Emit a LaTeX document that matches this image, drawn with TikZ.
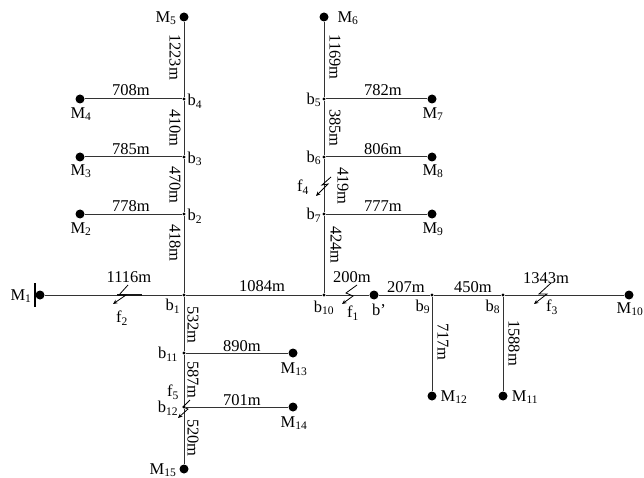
\documentclass[tikz,border=0pt]{standalone}
\usepackage{fontspec}
\setmainfont{Liberation Serif}
\usetikzlibrary{arrows.meta}
\tikzset{
  line/.style={draw=black!80,line width=1pt},
  term/.style={circle,fill=black,inner sep=0pt,minimum size=9pt},
  bus/.style={circle,fill=black,inner sep=0pt,minimum size=3.2pt},
  txt/.style={inner sep=0pt,font=\fontsize{16.5}{18}\selectfont},
  vlab/.style={txt,rotate=-90},
  fault/.style={draw=black,line width=.8pt,-{Stealth[length=4.5pt,width=4pt]}}
}
\newcommand{\lab}[3]{\node[txt] at (#1,#2) {#3};}
\newcommand{\vl}[3]{\node[vlab] at (#1+1,#2) {#3};}
\begin{document}
\begin{tikzpicture}[x=1pt,y=-1pt]
\useasboundingbox (0,0) rectangle (644,478);
% terminals
\node[term] (M1) at (40,295) {};
\node[term] (M2) at (80,214) {};
\node[term] (M3) at (80,157) {};
\node[term] (M4) at (80,99) {};
\node[term] (M5) at (184,17) {};
\node[term] (M6) at (324,17) {};
\node[term] (M7) at (432,99) {};
\node[term] (M8) at (432,157) {};
\node[term] (M9) at (432,214) {};
\node[term] (M10) at (629,295) {};
\node[term] (M11) at (503,396) {};
\node[term] (M12) at (432,396) {};
\node[term] (M13) at (293,353) {};
\node[term] (M14) at (293,407) {};
\node[term] (M15) at (184,469) {};
\node[term] (bp) at (374,295) {};
% buses
\node[bus] (b1) at (184,295) {};
\node[bus] (b2) at (184,214) {};
\node[bus] (b3) at (184,157) {};
\node[bus] (b4) at (184,99) {};
\node[bus] (b5) at (324,99) {};
\node[bus] (b6) at (324,157) {};
\node[bus] (b7) at (324,214) {};
\node[bus] (b8) at (503,295) {};
\node[bus] (b9) at (432,295) {};
\node[bus] (b10) at (324,295) {};
\node[bus] (b11) at (184,353) {};
\node[bus] (b12) at (184,407) {};
% lines
\draw[line] (M1) -- (b1) -- (b10) -- (bp) -- (b9) -- (b8) -- (M10);
\draw[line] (M5) -- (b4) -- (b3) -- (b2) -- (b1) -- (b11) -- (b12) -- (M15);
\draw[line] (M6) -- (b5) -- (b6) -- (b7) -- (b10);
\draw[line] (M4) -- (b4); \draw[line] (M3) -- (b3); \draw[line] (M2) -- (b2);
\draw[line] (b5) -- (M7); \draw[line] (b6) -- (M8); \draw[line] (b7) -- (M9);
\draw[line] (b11) -- (M13); \draw[line] (b12) -- (M14);
\draw[line] (b9) -- (M12); \draw[line] (b8) -- (M11);
% busbar at M1
\coordinate (barT) at (35,283); \coordinate (barB) at (35,307);
\draw[black,line width=2pt] (barT) -- (barB);
\coordinate (f2a) at (117,295); \coordinate (f2b) at (142,295);
\draw[black!90,line width=1.3pt] (f2a) -- (f2b);
% faults
\draw[fault] (128,285) -- (119,295) -- (126,295) -- (113,304);
\draw[fault] (357,285) -- (346,293) -- (353,296) -- (342,304);
\draw[fault] (551,283) -- (539,294) -- (547,294) -- (534,304);
\draw[fault] (331,177) -- (322,185) -- (328,184) -- (316,196);
\draw[fault] (190,400) -- (183,407) -- (188,409) -- (178,418);
% M labels
\lab{21}{296}{M\textsubscript{1}}
\lab{81}{229}{M\textsubscript{2}}
\lab{81}{171}{M\textsubscript{3}}
\lab{81}{114}{M\textsubscript{4}}
\lab{166}{18}{M\textsubscript{5}}
\lab{348}{18}{M\textsubscript{6}}
\lab{433}{114}{M\textsubscript{7}}
\lab{433}{171}{M\textsubscript{8}}
\lab{433}{229}{M\textsubscript{9}}
\lab{630}{309}{M\textsubscript{10}}
\lab{525}{397}{M\textsubscript{11}}
\lab{454}{397}{M\textsubscript{12}}
\lab{294}{369}{M\textsubscript{13}}
\lab{294}{423}{M\textsubscript{14}}
\lab{163}{470}{M\textsubscript{15}}
% b labels
\lab{173}{306}{b\textsubscript{1}}
\lab{195}{216}{b\textsubscript{2}}
\lab{195}{159}{b\textsubscript{3}}
\lab{195}{101}{b\textsubscript{4}}
\lab{314}{100}{b\textsubscript{5}}
\lab{314}{158}{b\textsubscript{6}}
\lab{314}{215}{b\textsubscript{7}}
\lab{493}{307}{b\textsubscript{8}}
\lab{423}{307}{b\textsubscript{9}}
\lab{324}{308}{b\textsubscript{10}}
\lab{168}{354}{b\textsubscript{11}}
\lab{168}{408}{b\textsubscript{12}}
\lab{379}{310}{b'}
% f labels
\lab{122}{318}{f\textsubscript{2}}
\lab{353}{313}{f\textsubscript{1}}
\lab{552}{307}{f\textsubscript{3}}
\lab{303}{187}{f\textsubscript{4}}
\lab{173}{392}{f\textsubscript{5}}
% horizontal lengths
\lab{129}{277}{1116m}
\lab{262}{286}{1084m}
\lab{352}{277}{200m}
\lab{406}{287}{207m}
\lab{473}{287}{450m}
\lab{546}{278}{1343m}
\lab{131}{90}{708m}
\lab{131}{149}{785m}
\lab{131}{206}{778m}
\lab{383}{90}{782m}
\lab{383}{149}{806m}
\lab{383}{206}{777m}
\lab{242}{346}{890m}
\lab{242}{400}{701m}
% vertical lengths
\vl{174}{57}{1223m}
\vl{174}{128}{410m}
\vl{174}{185}{470m}
\vl{174}{243}{418m}
\vl{334}{57}{1169m}
\vl{334}{128}{385m}
\vl{342}{186}{419m}
\vl{335}{245}{424m}
\vl{192}{325}{532m}
\vl{192}{380}{587m}
\vl{192}{438}{520m}
\vl{442}{342}{717m}
\vl{513}{343}{1588m}
\end{tikzpicture}
\end{document}
